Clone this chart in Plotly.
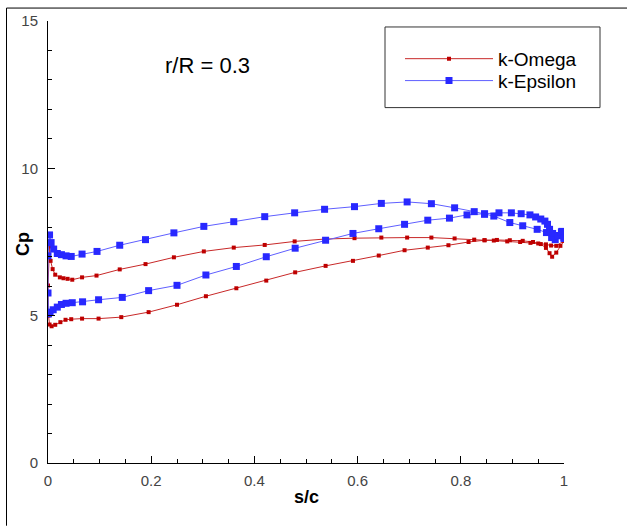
import plotly.graph_objects as go

# Pressure coefficient along the blade section at r/R = 0.3
# Each surface is listed from the leading edge (s/c = 0) to the trailing edge (s/c = 1).

# k-Epsilon
eps_upper_s = [0.0, 0.003, 0.006, 0.011, 0.018, 0.026, 0.035, 0.045, 0.066, 0.095, 0.139, 0.189,
               0.244, 0.302, 0.360, 0.420, 0.478, 0.536, 0.594, 0.646, 0.696, 0.743, 0.788, 0.826,
               0.846, 0.864, 0.895, 0.920, 0.948, 0.966, 0.976, 0.983, 0.990, 0.996, 1.0]
eps_upper_cp = [7.03, 7.74, 7.48, 7.26, 7.11, 7.07, 7.03, 7.01, 7.09, 7.18, 7.39, 7.58,
                7.81, 8.03, 8.19, 8.36, 8.49, 8.61, 8.70, 8.81, 8.86, 8.80, 8.66, 8.53,
                8.44, 8.38, 8.16, 8.05, 7.93, 7.82, 7.65, 7.58, 7.72, 7.86, 7.65]
eps_lower_s = [0.0, 0.001, 0.004, 0.010, 0.018, 0.026, 0.035, 0.047, 0.067, 0.098, 0.144, 0.195,
               0.250, 0.306, 0.365, 0.423, 0.479, 0.538, 0.591, 0.641, 0.691, 0.736, 0.778, 0.812,
               0.846, 0.874, 0.898, 0.917, 0.934, 0.945, 0.955, 0.963, 0.968, 0.972, 0.978, 0.988,
               0.995, 1.0]
eps_lower_cp = [5.77, 5.06, 5.12, 5.20, 5.29, 5.38, 5.42, 5.44, 5.47, 5.54, 5.62, 5.85,
                6.03, 6.38, 6.67, 7.00, 7.29, 7.56, 7.79, 7.95, 8.10, 8.24, 8.31, 8.42,
                8.46, 8.49, 8.49, 8.46, 8.42, 8.35, 8.28, 8.21, 8.10, 7.93, 7.79, 7.71,
                7.84, 7.62]

# k-Omega
omg_upper_s = [0.0, 0.003, 0.005, 0.009, 0.014, 0.023, 0.030, 0.038, 0.047, 0.066, 0.094, 0.139,
               0.189, 0.244, 0.302, 0.360, 0.420, 0.478, 0.536, 0.594, 0.646, 0.696, 0.743, 0.788,
               0.826, 0.846, 0.864, 0.890, 0.915, 0.935, 0.950, 0.965, 0.975, 0.985, 1.0]
omg_upper_cp = [6.02, 7.35, 6.86, 6.58, 6.39, 6.30, 6.27, 6.25, 6.22, 6.30, 6.36, 6.57,
                6.75, 6.98, 7.18, 7.31, 7.40, 7.52, 7.60, 7.63, 7.65, 7.65, 7.65, 7.62,
                7.58, 7.56, 7.55, 7.52, 7.50, 7.47, 7.45, 7.42, 7.38, 7.37, 7.54]
omg_lower_s = [0.001, 0.003, 0.007, 0.014, 0.024, 0.034, 0.045, 0.066, 0.098, 0.142, 0.195, 0.250,
               0.306, 0.365, 0.423, 0.479, 0.538, 0.591, 0.641, 0.691, 0.736, 0.776, 0.815, 0.846,
               0.870, 0.895, 0.920, 0.940, 0.955, 0.965, 0.972, 0.977, 0.985, 0.993, 1.0]
omg_lower_cp = [5.00, 4.70, 4.64, 4.69, 4.78, 4.86, 4.88, 4.90, 4.90, 4.95, 5.12, 5.37,
                5.66, 5.93, 6.19, 6.47, 6.69, 6.86, 7.04, 7.22, 7.31, 7.39, 7.50, 7.56,
                7.57, 7.56, 7.54, 7.50, 7.43, 7.30, 7.12, 7.00, 7.14, 7.37, 7.54]

x_ticks = [0, 0.2, 0.4, 0.6, 0.8, 1]
x_tick_text = ["0", "0.2", "0.4", "0.6", "0.8", "1"]
y_ticks = [0, 5, 10, 15]
y_tick_text = ["0", "5", "10", "15"]


def closed_loop(us, ucp, ls, lcp):
    """Trailing edge -> upper surface -> leading edge -> lower surface -> trailing edge."""
    return list(reversed(us)) + list(ls), list(reversed(ucp)) + list(lcp)


W, H = 627, 526
ML, MR, MT, MB = 48, 63, 19, 63
PW, PH = W - ML - MR, H - MT - MB


def px(x):
    return (x - ML) / PW


def py(y):
    return (H - MB - y) / PH


FONT = "Liberation Sans, Arial, sans-serif"

fig = go.Figure()

sx, sy = closed_loop(omg_upper_s, omg_upper_cp, omg_lower_s, omg_lower_cp)
fig.add_trace(go.Scatter(
    x=sx, y=sy, mode="lines+markers", name="k-Omega", legend="legend",
    line=dict(color="rgb(200,40,40)", width=1),
    marker=dict(symbol="square", size=4, color="rgb(190,0,0)", line=dict(width=0)),
))

sx, sy = closed_loop(eps_upper_s, eps_upper_cp, eps_lower_s, eps_lower_cp)
fig.add_trace(go.Scatter(
    x=sx, y=sy, mode="lines+markers", name="k-Epsilon", legend="legend2",
    line=dict(color="rgb(95,95,255)", width=1),
    marker=dict(symbol="square", size=7, color="rgb(40,40,255)", line=dict(width=0)),
))

tick_font = dict(family=FONT, size=15, color="#444444")
legend_style = dict(
    x=px(400), xanchor="left", yanchor="middle",
    bgcolor="rgba(0,0,0,0)", borderwidth=0,
    font=dict(family=FONT, size=19, color="black"),
    itemwidth=88, itemsizing="trace",
)

fig.update_layout(
    width=W, height=H,
    margin=dict(l=ML, r=MR, t=MT, b=MB, pad=0),
    paper_bgcolor="white", plot_bgcolor="white",
    showlegend=True,
    legend=dict(y=py(57), **legend_style),
    legend2=dict(y=py(79), **legend_style),
    xaxis=dict(
        range=[0, 1], showgrid=False, zeroline=False,
        showline=True, linecolor="black", linewidth=1, mirror=False,
        tickmode="array", tickvals=x_ticks, ticktext=x_tick_text,
        ticks="inside", ticklen=7, tickwidth=1, tickcolor="black",
        minor=dict(ticks="inside", ticklen=4, dtick=0.05, tickcolor="black", showgrid=False),
        tickfont=tick_font, ticklabelstandoff=4,
    ),
    yaxis=dict(
        range=[0, 15], showgrid=False, zeroline=False,
        showline=True, linecolor="black", linewidth=1, mirror=False,
        tickmode="array", tickvals=y_ticks, ticktext=y_tick_text,
        ticks="inside", ticklen=7, tickwidth=1, tickcolor="black",
        minor=dict(ticks="inside", ticklen=4, dtick=1, tickcolor="black", showgrid=False),
        tickfont=tick_font, ticklabelstandoff=6,
    ),
    shapes=[
        # outer frame (left and top edges)
        dict(type="line", xref="paper", yref="paper", x0=px(6.5), x1=px(6.5), y0=py(6), y1=py(H),
             line=dict(color="black", width=1)),
        dict(type="line", xref="paper", yref="paper", x0=px(6.5), x1=px(W), y0=py(6), y1=py(6),
             line=dict(color="black", width=1)),
        # legend box
        dict(type="rect", xref="paper", yref="paper", x0=px(385), x1=px(600), y0=py(106), y1=py(25),
             line=dict(color="#333333", width=1), fillcolor="rgba(0,0,0,0)"),
    ],
    annotations=[
        dict(text="r/R = 0.3", xref="paper", yref="paper", x=px(207), y=py(64),
             showarrow=False, xanchor="center", yanchor="middle",
             font=dict(family=FONT, size=22, color="black")),
        dict(text="<b>s/c</b>", xref="paper", yref="paper", x=px(306), y=py(497),
             showarrow=False, xanchor="center", yanchor="middle",
             font=dict(family=FONT, size=18, color="black")),
        dict(text="<b>Cp</b>", xref="paper", yref="paper", x=px(23), y=py(243),
             showarrow=False, xanchor="center", yanchor="middle", textangle=-90,
             font=dict(family=FONT, size=18, color="black")),
    ],
)

fig.write_html("out.html")
